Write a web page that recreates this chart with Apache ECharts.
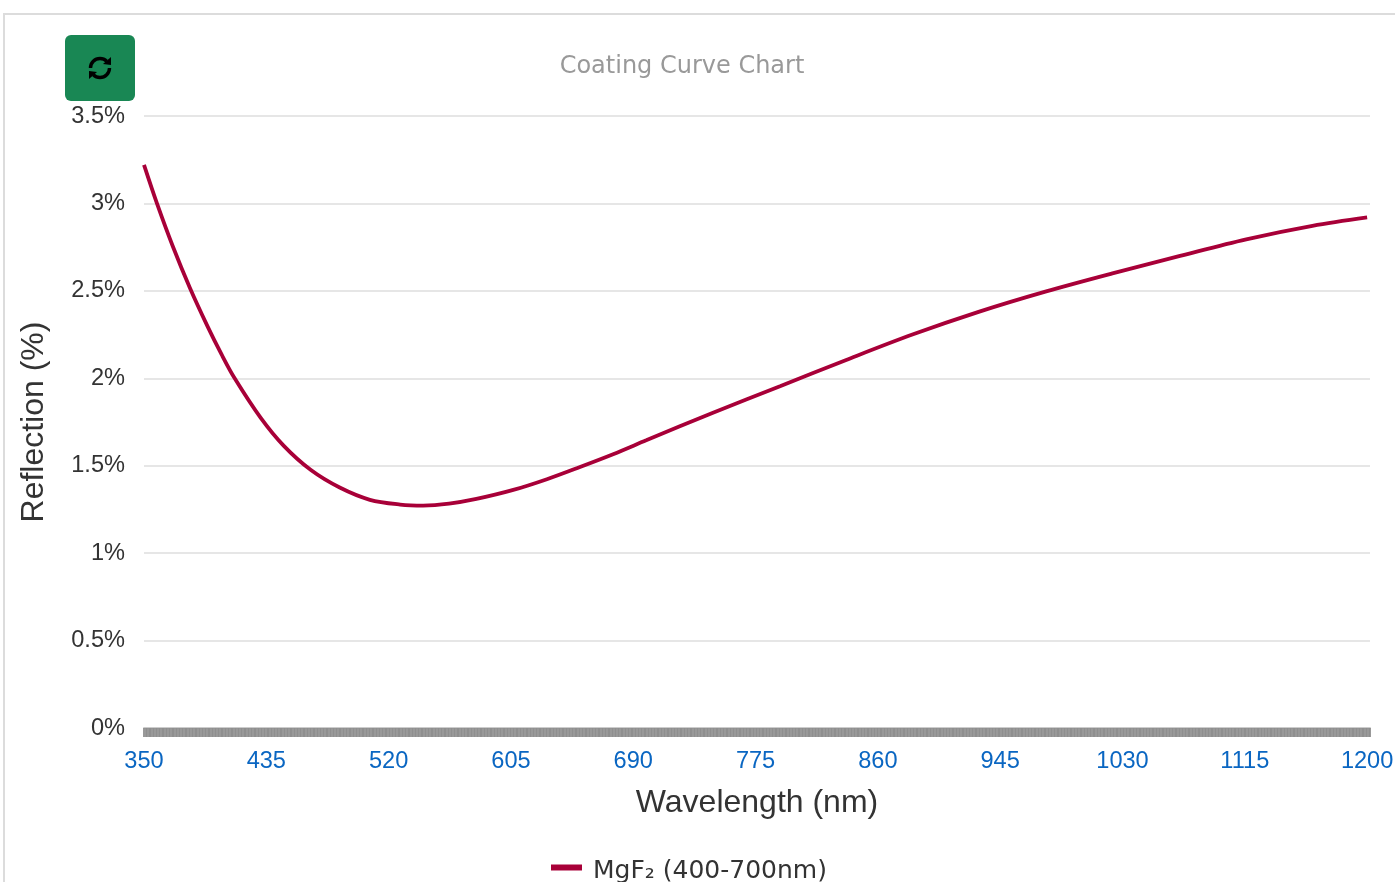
<!DOCTYPE html>
<html><head><meta charset="utf-8">
<script src="https://cdn.jsdelivr.net/npm/echarts@6/dist/echarts.min.js"></script>
<style>
html,body{margin:0;padding:0;background:#fff;overflow:hidden}
#c{position:absolute;left:0;top:0;width:1395px;height:882px}
</style></head><body><div id="c"></div>
<script>
const wavelengths = [350,359,370,382,394,404,413,431,447,466,486,507,528,544,562,581,606,630,653,676,699,745,792,838,884,930,977,1023,1070,1116,1162,1200];
const reflection = [3.22,3.0,2.755,2.515,2.30,2.135,2.0,1.775,1.615,1.475,1.375,1.305,1.278,1.272,1.283,1.31,1.36,1.423,1.493,1.566,1.645,1.802,1.955,2.105,2.25,2.38,2.497,2.60,2.70,2.795,2.872,2.92];
const seriesName = 'MgF₂ (400-700nm)';
const chartTitle = 'Coating Curve Chart';
const xName = 'Wavelength (nm)';
const yName = 'Reflection (%)';
const chart = echarts.init(document.getElementById('c'), null, {renderer:'canvas', width:1395, height:882});
const sans = '"Liberation Sans", Arial, sans-serif';
chart.setOption({
  animation:false,
  backgroundColor:'#fff',
  title:{text:chartTitle,left:677,top:50,textAlign:'center',textStyle:{color:'#999',fontSize:24,fontWeight:'normal',fontFamily:'"DejaVu Sans"'}},
  legend:{data:[{name:seriesName,icon:'rect'}],left:546,top:854,itemWidth:31,itemHeight:6,itemGap:10,
    formatter:n=>'{a|'+n+'}',
    textStyle:{color:'#333',fontSize:25,fontFamily:'"DejaVu Sans"',
      rich:{a:{color:'#333',fontSize:25,fontFamily:'"DejaVu Sans"',padding:[8,0,0,6]}}}},
  grid:{left:144,right:25,top:116,bottom:154,outerBoundsMode:'none'},
  xAxis:{type:'value',min:350,max:1202,interval:85,name:xName,nameLocation:'middle',nameGap:59,
    nameTextStyle:{color:'#333',fontSize:32,fontFamily:sans},
    axisLine:{show:true,lineStyle:{color:'#ccc',width:2}},
    axisTick:{show:true,length:9,lineStyle:{color:'#8e8e8e',width:1.8}},
    minorTick:{show:true,splitNumber:85,length:9,lineStyle:{color:'#8e8e8e',width:1.8}},
    splitLine:{show:false},minorSplitLine:{show:false},
    axisLabel:{color:'#0a66c2',fontSize:23.6,fontFamily:sans,margin:21,showMinLabel:true,showMaxLabel:false,formatter:v=>String(v)}},
  yAxis:{type:'value',min:0,max:3.5,interval:0.5,name:yName,nameLocation:'middle',nameGap:94,nameRotate:90,
    nameTextStyle:{color:'#333',fontSize:32,fontFamily:sans},
    axisLine:{show:false},axisTick:{show:false},
    splitLine:{lineStyle:{color:'#e6e6e6',width:2}},
    axisLabel:{color:'#333',fontSize:23.6,fontFamily:sans,margin:19,padding:[6,0,0,0],formatter:v=>v+'%'}},
  series:[{name:seriesName,type:'line',smooth:0.33,showSymbol:false,symbol:'none',
    lineStyle:{color:'#a80038',width:3.8},itemStyle:{color:'#a80038'},
    data:wavelengths.map((w,i)=>[w,reflection[i]])}],
  graphic:[
    {type:'rect',silent:true,z:0,shape:{x:4,y:14,width:1500,height:1000},style:{fill:'transparent',stroke:'#dcdcdc',lineWidth:2}},
    {type:'rect',z:50,shape:{x:65,y:35,width:70,height:66,r:6},style:{fill:'#198754'}},
    {type:'arc',z:51,shape:{cx:100,cy:68,r:9.5,startAngle:Math.PI*1.0,endAngle:Math.PI*1.75,clockwise:true},style:{fill:'none',stroke:'#000',lineWidth:3.4}},
    {type:'polygon',z:51,shape:{points:[[103,64],[111,65],[111,57]]},style:{fill:'#000'}},
    {type:'arc',z:51,shape:{cx:100,cy:68,r:9.5,startAngle:0,endAngle:Math.PI*0.75,clockwise:true},style:{fill:'none',stroke:'#000',lineWidth:3.4}},
    {type:'polygon',z:51,shape:{points:[[97,72],[89,71],[89,79]]},style:{fill:'#000'}}
  ]
});
</script></body></html>
